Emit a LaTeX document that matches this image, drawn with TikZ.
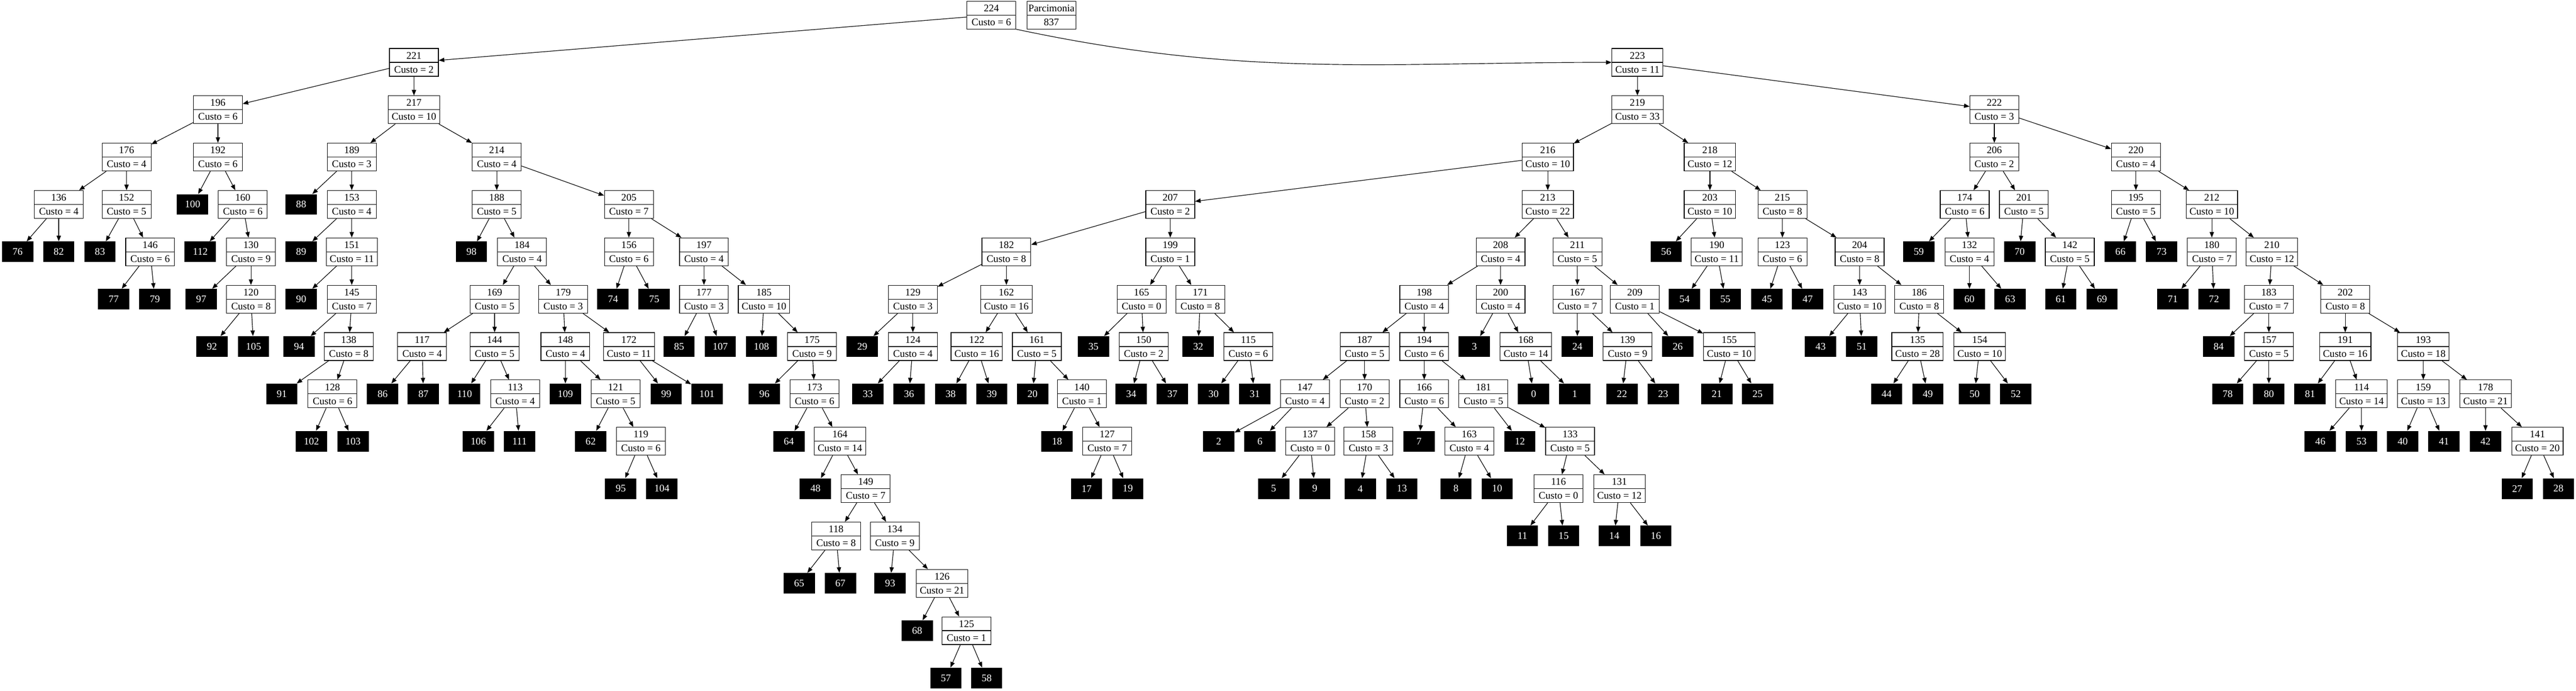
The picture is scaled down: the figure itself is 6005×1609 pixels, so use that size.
\documentclass[tikz,border=0pt]{standalone}
\usepackage{fontspec}
\setmainfont{Liberation Serif}
\usepackage{tikz}
\usetikzlibrary{shapes.multipart,arrows.meta}
\tikzstyle{caixa} = [rectangle split, rectangle split parts=2, draw=black, line width=0.7pt, inner xsep=4pt, inner ysep=0pt, minimum width=57pt, text centered, font=\fontsize{11.8}{14}\selectfont]
\tikzstyle{folha} = [rectangle, fill=black, text=white, minimum width=36.5pt, minimum height=24pt, inner sep=0pt, font=\fontsize{11.8}{14}\selectfont]
\tikzstyle{liga} = [line width=0.7pt, -{Triangle[length=6.5pt,width=5pt]}]
\newcommand{\escora}{\rule[-3.75pt]{0pt}{15.5pt}}

\begin{document}
\begin{tikzpicture}[x=0.5pt, y=-0.5pt]
			\useasboundingbox (0,0) rectangle (6005,1609);
			% internal nodes: number/x/level/custo
			\foreach \num/\px/\nv/\cst in {
				224/2311/0/6, 221/965/1/2, 223/3817/1/11,
				196/508/2/6, 217/965/2/10, 219/3817/2/33, 222/4649/2/3,
				176/295/3/4, 192/508/3/6, 189/820/3/3, 214/1158/3/4, 216/3608/3/10, 218/3986/3/12, 206/4649/3/2, 220/4979/3/4,
				136/137/4/4, 152/295/4/5, 160/566/4/6, 153/820/4/4, 188/1158/4/5, 205/1466/4/7, 207/2728/4/2, 213/3608/4/22,
				203/3986/4/10, 215/4155/4/8, 174/4580/4/6, 201/4718/4/5, 195/4979/4/5, 212/5156/4/10,
				146/350/5/6, 130/585/5/9, 151/820/5/11, 184/1217/5/4, 156/1466/5/6, 197/1641/5/4, 182/2346/5/8, 199/2728/5/1,
				208/3498/5/4, 211/3677/5/5, 190/4002/5/11, 123/4155/5/6, 204/4335/5/8, 132/4591/5/4, 142/4825/5/5, 180/5156/5/7, 210/5296/5/12,
				120/585/6/8, 145/820/6/7, 169/1153/6/5, 179/1313/6/3, 177/1641/6/3, 185/1781/6/10, 129/2128/6/3, 162/2346/6/16,
				165/2661/6/0, 171/2798/6/8, 198/3320/6/4, 200/3498/6/4, 167/3677/6/7, 209/3811/6/1, 143/4335/6/10, 186/4474/6/8,
				183/5289/6/7, 202/5467/6/8,
				138/813/7/8, 117/984/7/4, 144/1153/7/5, 148/1318/7/4, 172/1466/7/11, 175/1893/7/9, 124/2128/7/4, 122/2277/7/16,
				161/2417/7/5, 150/2666/7/2, 115/2910/7/6, 187/3181/7/5, 194/3320/7/6, 168/3557/7/14, 139/3794/7/9, 155/4031/7/10,
				135/4470/7/28, 154/4615/7/10, 157/5289/7/5, 191/5467/7/16, 193/5649/7/18,
				128/775/8/6, 113/1201/8/4, 121/1435/8/5, 173/1899/8/6, 140/2522/8/1, 147/3042/8/4, 170/3181/8/2, 166/3320/8/6,
				181/3458/8/5, 114/5505/8/14, 159/5649/8/13, 178/5794/8/21,
				119/1494/9/6, 164/1958/9/14, 127/2581/9/7, 137/3054/9/0, 158/3190/9/3, 163/3425/9/4, 133/3660/9/5, 141/5915/9/20,
				149/2018/10/7, 116/3633/10/0, 131/3775/10/12,
				118/1949/11/8, 134/2086/11/9, 126/2196/12/21, 125/2253/13/1}
				\node (n\num) [caixa] at (\px,{35+110.3*\nv}) {\escora\num \nodepart{two}\escora Custo = \cst};

			% leaves: number/x/level
			\foreach \num/\px/\nv in {
				100/449/4, 88/702/4,
				76/41/5, 82/137/5, 83/233/5, 112/467/5, 89/702/5, 98/1099/5, 56/3884/5, 59/4473/5, 70/4708/5, 66/4943/5, 73/5039/5,
				77/265/6, 79/361/6, 97/469/6, 90/702/6, 74/1429/6, 75/1525/6, 54/3927/6, 55/4022/6, 45/4119/6, 47/4214/6,
				60/4591/6, 63/4686/6, 61/4804/6, 69/4900/6, 71/5065/6, 72/5161/6,
				92/494/7, 105/591/7, 94/697/7, 85/1583/7, 107/1679/7, 108/1775/7, 29/2010/7, 35/2549/7, 32/2793/7, 3/3437/7,
				24/3677/7, 26/3911/7, 43/4244/7, 51/4340/7, 84/5172/7,
				91/657/8, 86/892/8, 87/987/8, 110/1083/8, 109/1318/8, 99/1553/8, 101/1648/8, 96/1782/8, 33/2023/8, 36/2119/8,
				38/2216/8, 39/2312/8, 20/2407/8, 34/2637/8, 37/2733/8, 30/2829/8, 31/2925/8, 0/3575/8, 1/3671/8, 22/3781/8,
				23/3877/8, 21/4002/8, 25/4097/8, 44/4398/8, 49/4494/8, 50/4603/8, 52/4699/8, 78/5193/8, 80/5289/8, 81/5385/8,
				102/726/9, 103/823/9, 106/1115/9, 111/1211/9, 62/1377/9, 64/1839/9, 18/2464/9, 2/2841/9, 6/2937/9, 7/3308/9,
				12/3543/9, 46/5409/9, 53/5505/9, 40/5601/9, 41/5697/9, 42/5794/9,
				95/1447/10, 104/1543/10, 48/1901/10, 17/2533/10, 19/2629/10, 5/2969/10, 9/3065/10, 4/3171/10, 13/3268/10,
				8/3394/10, 10/3490/10, 27/5868/10, 28/5964/10,
				11/3549/11, 15/3645/11, 14/3763/11, 16/3860/11,
				65/1863/12, 67/1959/12, 93/2075/12, 68/2138/13, 57/2205/14, 58/2300/14}
				\node (n\num) [folha] at (\px,{35+110.3*\nv}) {\num};

			\node (parc) [caixa, inner xsep=1pt] at (2451,35) {\escora Parcimonia \nodepart{two}\escora 837};

			% edges: parent/left/right
			\draw [liga] (n224) -- (n221);
			\draw [liga] (n224.south east) to[out=-12,in=180] (n223);
			\foreach \pai/\esq/\dir in {
				221/196/217, 223/219/222, 196/176/192, 217/189/214, 219/216/218, 222/206/220,
				176/136/152, 192/100/160, 189/88/153, 214/188/205, 216/207/213, 218/203/215, 206/174/201, 220/195/212,
				136/76/82, 152/83/146, 160/112/130, 153/89/151, 188/98/184, 205/156/197, 207/182/199, 213/208/211,
				203/56/190, 215/123/204, 174/59/132, 201/70/142, 195/66/73, 212/180/210,
				146/77/79, 130/97/120, 151/90/145, 184/169/179, 156/74/75, 197/177/185, 182/129/162, 199/165/171,
				208/198/200, 211/167/209, 190/54/55, 123/45/47, 204/143/186, 132/60/63, 142/61/69, 180/71/72, 210/183/202,
				120/92/105, 145/94/138, 169/117/144, 179/148/172, 177/85/107, 185/108/175, 129/29/124, 162/122/161,
				165/35/150, 171/32/115, 198/187/194, 200/3/168, 167/24/139, 209/26/155, 143/43/51, 186/135/154,
				183/84/157, 202/191/193,
				138/91/128, 117/86/87, 144/110/113, 148/109/121, 172/99/101, 175/96/173, 124/33/36, 122/38/39,
				161/20/140, 150/34/37, 115/30/31, 187/147/170, 194/166/181, 168/0/1, 139/22/23, 155/21/25,
				135/44/49, 154/50/52, 157/78/80, 191/81/114, 193/159/178,
				128/102/103, 113/106/111, 121/62/119, 173/64/164, 140/18/127, 147/2/6, 170/137/158, 166/7/163,
				181/12/133, 114/46/53, 159/40/41, 178/42/141,
				119/95/104, 164/48/149, 127/17/19, 137/5/9, 158/4/13, 163/8/10, 133/116/131, 141/27/28,
				149/118/134, 116/11/15, 131/14/16, 118/65/67, 134/93/126, 126/68/125, 125/57/58} {
				\draw [liga] (n\pai) -- (n\esq);
				\draw [liga] (n\pai) -- (n\dir);
			}
\end{tikzpicture}
\end{document}
